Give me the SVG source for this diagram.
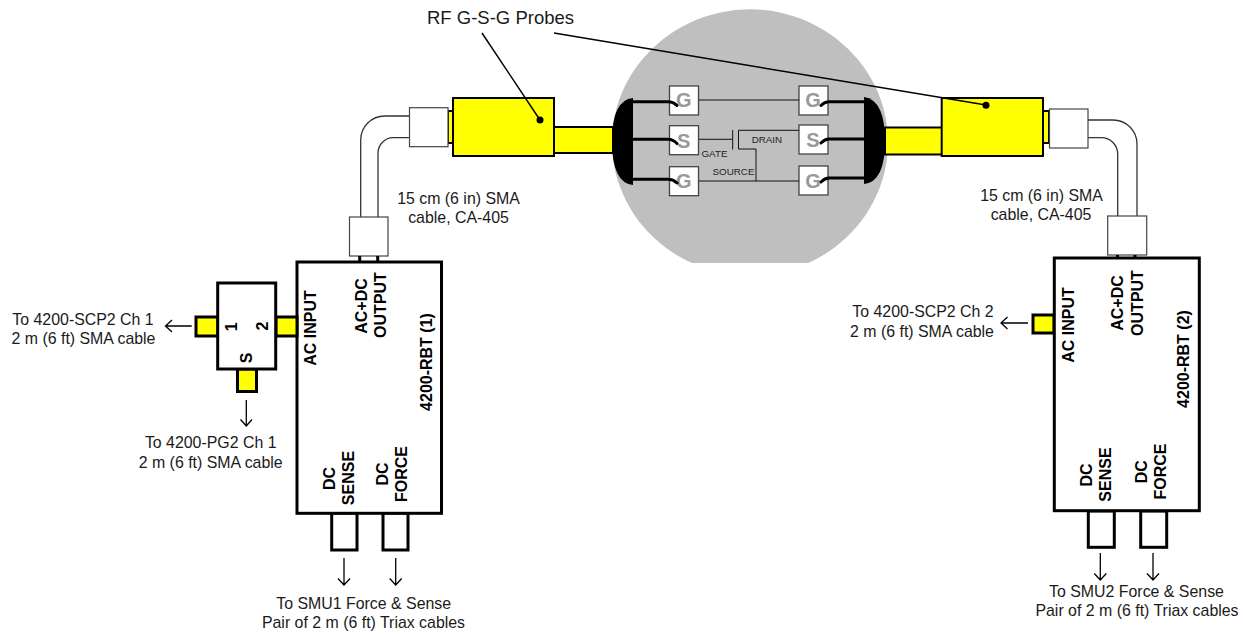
<svg xmlns="http://www.w3.org/2000/svg" width="1243" height="635" viewBox="0 0 1243 635">
<style>
text{font-family:"Liberation Sans",Arial,sans-serif;fill:#1a1a1a}
.l{font-size:15.9px;text-anchor:middle}
.b{font-size:16px;font-weight:bold;text-anchor:middle;fill:#000}
.s{font-size:9.8px;fill:#222}
.p{font-size:20px;font-weight:bold;fill:#999;text-anchor:middle}
.y{fill:#ff0;stroke:#000;stroke-width:2}
.y3{fill:#ff0;stroke:#000;stroke-width:3}
.w{fill:#fff;stroke:#444;stroke-width:1.2}
.box{fill:#fff;stroke:#000;stroke-width:3}
.c{fill:none;stroke:#333;stroke-width:1.3}
.f{fill:none;stroke:#000;stroke-width:3;stroke-linecap:round}
.a{fill:none;stroke:#000;stroke-width:1.3}
.pad{fill:#fff;stroke:#444;stroke-width:1.3}
.wire{fill:none;stroke:#111;stroke-width:1}
.lead{fill:none;stroke:#000;stroke-width:1.5}
</style>
<g id="wafer"><path d="M692 263A138 133 0 1 1 808 263Z" fill="#bfbfbf"/></g>
<g id="probe-left">
<path d="M360.700 217V140A24 24 0 0 1 384.700 116H410M378 217V153A15.300 15.300 0 0 1 393.300 137.700H410" class="c"/>
<rect x="448" y="111" width="5" height="32" class="y"/>
<rect x="409.500" y="107.700" width="38.500" height="39" class="w"/>
<rect x="554" y="127" width="59" height="26" class="y"/>
<rect x="453" y="98" width="101" height="58" class="y"/>
<path d="M633 98Q612 100 612 141Q612 183 633 185Z" fill="#000"/>
</g>
<g id="probe-right">
<path d="M1137 216V144A24 24 0 0 0 1113 120H1088M1117.700 216V154A16.300 16.300 0 0 0 1101.400 137.700H1087" class="c"/>
<rect x="1043" y="111" width="6" height="32" class="y"/>
<rect x="1049.500" y="109" width="38.500" height="39" class="w"/>
<rect x="885" y="127.500" width="57" height="27" class="y"/>
<rect x="941.700" y="98" width="101.300" height="58" class="y"/>
<path d="M864 97Q885 100 885 141Q885 182 864 184Z" fill="#000"/>
</g>
<g id="device">
<rect class="pad" x="669.500" y="86" width="29" height="29"/><text class="p" x="683.700" y="106.700">G</text>
<rect class="pad" x="669.500" y="125.700" width="29" height="29"/><text class="p" x="683.700" y="147.500">S</text>
<rect class="pad" x="669.500" y="166.700" width="29" height="29"/><text class="p" x="683.700" y="188.300">G</text>
<rect class="pad" x="799" y="86" width="29" height="29"/><text class="p" x="813" y="107">G</text>
<rect class="pad" x="799" y="125" width="29" height="29"/><text class="p" x="813" y="146.700">S</text>
<rect class="pad" x="799" y="166" width="29" height="29"/><text class="p" x="813" y="187.700">G</text>
<path class="f" d="M633 101.700H668Q673 101.700 677 105.500M633 139.300H668Q673 139.300 677 143.500M633 179.300H668Q673 179.300 677 183M864 101.700H829Q825 101.700 821 105.500M864 139H829Q825 139 821 143M864 178H829Q825 178 821 182"/>
<path class="wire" d="M699 100H799M699 139.300H732M699 181H799"/>
<path class="wire" d="M732.700 130V149.500M799 130.300H738.500V149H756V181"/>
<text class="s" x="701.500" y="157">GATE</text><text class="s" x="751.700" y="143">DRAIN</text><text class="s" x="712.500" y="175">SOURCE</text>
</g>
<g id="rbt1">
<rect class="w" x="349.500" y="217" width="38.500" height="39"/>
<path d="M359.700 256V261M377.700 256V261" stroke="#000" stroke-width="3"/>
<rect class="box" x="331.700" y="513" width="25.300" height="37"/><rect class="box" x="383" y="513" width="25" height="37"/>
<rect class="box" x="297" y="262" width="144.500" height="251.300"/>
<text class="b" transform="translate(316 328) rotate(-90)">AC INPUT</text>
<text class="b" transform="translate(366.700 306) rotate(-90)">AC+DC</text>
<text class="b" transform="translate(385.700 305) rotate(-90)">OUTPUT</text>
<text class="b" transform="translate(431.700 362) rotate(-90)">4200-RBT (1)</text>
<text class="b" transform="translate(335 478.500) rotate(-90)">DC</text>
<text class="b" transform="translate(354 478) rotate(-90)">SENSE</text>
<text class="b" transform="translate(388.300 474) rotate(-90)">DC</text>
<text class="b" transform="translate(407 474) rotate(-90)">FORCE</text>
</g>
<g id="splitter">
<rect class="y3" x="196" y="317" width="22" height="19"/>
<rect class="y3" x="276" y="317" width="21" height="19"/>
<rect class="y3" x="237.500" y="369" width="19" height="22.500"/>
<rect class="box" x="217.700" y="283" width="58" height="86"/>
<text class="b" transform="translate(237 326.700) rotate(-90)">1</text>
<text class="b" transform="translate(267.700 326) rotate(-90)">2</text>
<text class="b" transform="translate(251.700 358) rotate(-90)">S</text>
</g>
<g id="rbt2">
<rect class="w" x="1107.700" y="216" width="39" height="39"/>
<path d="M1117.500 255V258M1135 255V258" stroke="#000" stroke-width="3"/>
<rect class="y3" x="1033" y="315" width="21" height="18"/>
<rect class="box" x="1088.300" y="511" width="26" height="36.300"/><rect class="box" x="1140.700" y="511" width="26" height="36.300"/>
<rect class="box" x="1054.300" y="258" width="145" height="252.700"/>
<text class="b" transform="translate(1074 325) rotate(-90)">AC INPUT</text>
<text class="b" transform="translate(1122.700 303) rotate(-90)">AC+DC</text>
<text class="b" transform="translate(1142.700 303) rotate(-90)">OUTPUT</text>
<text class="b" transform="translate(1189 359) rotate(-90)">4200-RBT (2)</text>
<text class="b" transform="translate(1091.700 475) rotate(-90)">DC</text>
<text class="b" transform="translate(1111 474.500) rotate(-90)">SENSE</text>
<text class="b" transform="translate(1146.700 471.700) rotate(-90)">DC</text>
<text class="b" transform="translate(1165.700 471.500) rotate(-90)">FORCE</text>
</g>
<g id="connectors">
<path class="a" d="M191.700 326H165.500M172 320L165.500 326L172 332"/>
<path class="a" d="M246.300 400V426M240.500 419.500L246.300 426L252 419.500"/>
<path class="a" d="M344 558V585M338 578.500L344 585L350 578.500"/>
<path class="a" d="M395.700 558V585M389.700 578.500L395.700 585L401.700 578.500"/>
<path class="a" d="M1028 323H1001M1007.500 317L1001 323L1007.500 329"/>
<path class="a" d="M1100.300 553V580M1094.300 573.500L1100.300 580L1106.300 573.500"/>
<path class="a" d="M1153 553V580M1147 573.500L1153 580L1159 573.500"/>
<path class="lead" d="M482 33L540 120"/>
<path class="lead" d="M554 33L986 105"/>
<circle cx="540" cy="120" r="3.500"/><circle cx="986" cy="105.300" r="3.500"/>
</g>
<g id="labels">
<text style="font-size:18.500px" x="427" y="23.500">RF G-S-G Probes</text>
<text class="l" x="458.500" y="204">15 cm (6 in) SMA</text><text class="l" x="458.500" y="223">cable, CA-405</text>
<text class="l" x="1041.500" y="200.700">15 cm (6 in) SMA</text><text class="l" x="1041" y="220">cable, CA-405</text>
<text class="l" x="83" y="325">To 4200-SCP2 Ch 1</text><text class="l" x="83.500" y="344">2 m (6 ft) SMA cable</text>
<text class="l" x="210.700" y="448">To 4200-PG2 Ch 1</text><text class="l" x="210.700" y="467.700">2 m (6 ft) SMA cable</text>
<text class="l" x="363.700" y="609">To SMU1 Force &amp; Sense</text><text class="l" x="363.500" y="628">Pair of 2 m (6 ft) Triax cables</text>
<text class="l" x="923" y="317.300">To 4200-SCP2 Ch 2</text><text class="l" x="922" y="337">2 m (6 ft) SMA cable</text>
<text class="l" x="1136.500" y="596.700">To SMU2 Force &amp; Sense</text><text class="l" x="1137" y="616">Pair of 2 m (6 ft) Triax cables</text>
</g>
</svg>
